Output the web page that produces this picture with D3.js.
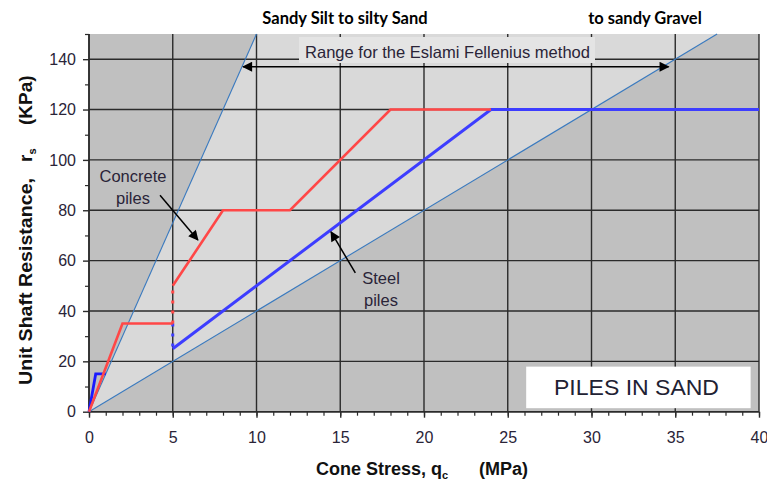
<!DOCTYPE html>
<html><head><meta charset="utf-8">
<script src="https://cdn.jsdelivr.net/npm/d3@7"></script>
<style>body{margin:0;background:#fff;}svg{display:block;}</style>
</head><body>
<svg id="c" width="767" height="480"></svg>
<script>
// ---- data ----
const xTicks = [0, 5, 10, 15, 20, 25, 30, 35, 40];
const yTicks = [0, 20, 40, 60, 80, 100, 120, 140];
const xMinorTicks = d3.range(0, 41, 1);
const yMinorTicks = [10, 30, 50, 70, 90, 110, 130, 150];
const upperBound = [[0, 0], [10, 150]];
const lowerBound = [[0, 0], [37.5, 150]];
const concreteLow = [[0, 0], [2, 35], [5, 35]];
const concreteJump = [[5, 35], [5, 50]];
const concreteHigh = [[5, 50], [8, 80], [12, 80], [18, 120], [24, 120]];
const steelLow = [[0, 0], [0.4, 15], [1, 15]];
const steelJump = [[5, 35], [5, 25]];
const steelHigh = [[5, 25], [24, 120], [40, 120]];
const topLabels = ["Sandy Silt to silty Sand", "to sandy Gravel"];

const FONT = "'Liberation Sans', Arial, sans-serif";
const svg = d3.select("#c");
const x = d3.scaleLinear().domain([0, 40]).range([89, 759]);
const y = d3.scaleLinear().domain([0, 150]).range([411.7, 34]);
const line = d3.line().x(d => x(d[0])).y(d => y(d[1]));

// plot background
svg.append("rect").attr("x", x(0)).attr("y", y(150)).attr("width", x(40) - x(0)).attr("height", y(0) - y(150)).attr("fill", "#c0c0c0");
// light range region
svg.append("path").attr("d", line([upperBound[0], upperBound[1], lowerBound[1]]) + "Z").attr("fill", "#d9d9d9");

// grid
const g = svg.append("g");
g.selectAll(".vx").data(xTicks).join("line").attr("x1", d => x(d)).attr("x2", d => x(d)).attr("y1", y(150)).attr("y2", y(0)).attr("stroke", "#2b2b2b").attr("stroke-width", 1.4);
g.selectAll(".hy").data(yTicks).join("line").attr("x1", x(0)).attr("x2", x(40)).attr("y1", d => y(d)).attr("y2", d => y(d)).attr("stroke", "#2b2b2b").attr("stroke-width", 1.4);

// axes with minor ticks
const xAxis = d3.axisBottom(x).tickValues(xMinorTicks).tickSize(4).tickFormat("");
const xa = svg.append("g").attr("transform", `translate(0,${y(0)})`).call(xAxis);
xa.select(".domain").remove();
xa.selectAll("line").attr("stroke", "#2b2b2b").attr("stroke-width", 1.2);
const xLab = d3.axisBottom(x).tickValues(xTicks).tickSize(6).tickPadding(14).tickFormat(d3.format("d"));
const xl = svg.append("g").attr("transform", `translate(0,${y(0)})`).call(xLab);
xl.select(".domain").remove();
xl.selectAll("line").attr("stroke", "#2b2b2b").attr("stroke-width", 1.4);
xl.selectAll("text").attr("font-family", FONT).attr("font-size", 16).attr("fill", "#2a2438");

const yAxis = d3.axisLeft(y).tickValues(yMinorTicks).tickSize(4).tickFormat("");
const ya = svg.append("g").attr("transform", `translate(${x(0)},0)`).call(yAxis);
ya.select(".domain").remove();
ya.selectAll("line").attr("stroke", "#2b2b2b").attr("stroke-width", 1.2);
const yLab = d3.axisLeft(y).tickValues(yTicks).tickSize(6).tickPadding(7).tickFormat(d3.format("d"));
const yl = svg.append("g").attr("transform", `translate(${x(0)},0)`).call(yLab);
yl.select(".domain").remove();
yl.selectAll("line").attr("stroke", "#2b2b2b").attr("stroke-width", 1.4);
yl.selectAll("text").attr("font-family", FONT).attr("font-size", 16).attr("fill", "#2a2438");
svg.append("line").attr("x1", x(0)).attr("x2", x(0)).attr("y1", y(150)).attr("y2", y(0)).attr("stroke", "#2b2b2b").attr("stroke-width", 1.6);
svg.append("line").attr("x1", x(0)).attr("x2", x(40)).attr("y1", y(0)).attr("y2", y(0)).attr("stroke", "#2b2b2b").attr("stroke-width", 1.6);

// bound lines
[upperBound, lowerBound].forEach(b => svg.append("path").attr("d", line(b)).attr("stroke", "#3a7abf").attr("stroke-width", 1.1).attr("fill", "none"));

// PILES IN SAND box
svg.append("rect").attr("x", x(26.1)).attr("y", y(17.9)).attr("width", x(39.5) - x(26.1)).attr("height", y(1.4) - y(17.9)).attr("fill", "#ffffff");
svg.append("text").attr("x", 554).attr("y", 395).attr("textLength", 165).attr("lengthAdjust", "spacingAndGlyphs")
  .attr("font-family", FONT).attr("font-size", 21.5).attr("fill", "#1f2233").text("PILES IN SAND");

// steel lines
const blue = "#3d3dff", red = "#ff4747";
svg.append("path").attr("d", line(steelLow)).attr("stroke", "#1a1aff").attr("stroke-width", 2.8).attr("fill", "none");
svg.append("path").attr("d", line(steelJump)).attr("stroke", blue).attr("stroke-width", 3).attr("stroke-dasharray", "3,7").attr("fill", "none");
svg.append("path").attr("d", line(steelHigh)).attr("stroke", blue).attr("stroke-width", 3).attr("fill", "none");
// concrete lines
svg.append("path").attr("d", line(concreteLow)).attr("stroke", red).attr("stroke-width", 2.6).attr("fill", "none");
svg.append("path").attr("d", line(concreteJump)).attr("stroke", red).attr("stroke-width", 3).attr("stroke-dasharray", "3,7").attr("fill", "none");
svg.append("path").attr("d", line(concreteHigh)).attr("stroke", red).attr("stroke-width", 2.6).attr("fill", "none");

// arrow marker
const defs = svg.append("defs");
defs.append("marker").attr("id", "ah").attr("viewBox", "0 0 10 10").attr("refX", 9).attr("refY", 5)
  .attr("markerWidth", 14).attr("markerHeight", 10).attr("markerUnits", "userSpaceOnUse").attr("orient", "auto-start-reverse")
  .append("path").attr("d", "M0,0 L10,5 L0,10 Z").attr("fill", "#000");

// Range label
svg.append("rect").attr("x", 299).attr("y", 37).attr("width", 296).attr("height", 26).attr("fill", "#e4e4e4");
svg.append("text").attr("x", 305).attr("y", 58).attr("textLength", 285).attr("lengthAdjust", "spacingAndGlyphs").attr("font-family", FONT)
  .attr("font-size", 16.5).attr("fill", "#2a2438").text("Range for the Eslami Fellenius method");
svg.append("line").attr("x1", x(9.2)).attr("x2", x(34.6)).attr("y1", y(137)).attr("y2", y(137)).attr("stroke", "#000").attr("stroke-width", 1.5)
  .attr("marker-start", "url(#ah)").attr("marker-end", "url(#ah)");

// annotations
const ann = svg.append("g").attr("font-family", FONT).attr("font-size", 16.5).attr("fill", "#2a2438").attr("text-anchor", "middle");
ann.append("text").attr("x", 133).attr("y", 182).text("Concrete");
ann.append("text").attr("x", 133).attr("y", 204).text("piles");
ann.append("text").attr("x", 381).attr("y", 284).text("Steel");
ann.append("text").attr("x", 381).attr("y", 306).text("piles");
svg.append("line").attr("x1", x(4.24)).attr("y1", y(86)).attr("x2", x(6.5)).attr("y2", y(68.2)).attr("stroke", "#000").attr("stroke-width", 1.5).attr("marker-end", "url(#ah)");
svg.append("line").attr("x1", x(15.9)).attr("y1", y(55.1)).attr("x2", x(14.45)).attr("y2", y(71.4)).attr("stroke", "#000").attr("stroke-width", 1.5).attr("marker-end", "url(#ah)");

// top labels
svg.append("text").attr("x", 345).attr("y", 24).attr("text-anchor", "middle").attr("font-family", "Lato, sans-serif").attr("font-weight", "bold").attr("font-size", 16.5).attr("fill", "#000").text(topLabels[0]);
svg.append("text").attr("x", 645).attr("y", 24).attr("text-anchor", "middle").attr("font-family", "Lato, sans-serif").attr("font-weight", "bold").attr("font-size", 16.5).attr("fill", "#000").text(topLabels[1]);

// axis titles
const xt = svg.append("text").attr("x", 316).attr("y", 475).attr("font-family", FONT).attr("font-weight", "bold").attr("font-size", 18).attr("fill", "#111");
xt.append("tspan").text("Cone Stress, q");
xt.append("tspan").attr("font-size", 11).attr("dy", 4).text("c");
xt.append("tspan").attr("x", 479).attr("dy", -4).text("(MPa)");
const yt = svg.append("text").attr("transform", "translate(32,385) rotate(-90)").attr("font-family", FONT).attr("font-weight", "bold").attr("font-size", 19).attr("fill", "#111");
yt.append("tspan").attr("textLength", 207).attr("lengthAdjust", "spacingAndGlyphs").text("Unit Shaft Resistance,");
yt.append("tspan").attr("x", 223).text("r");
yt.append("tspan").attr("font-size", 11).attr("dy", 4).text("s");
yt.append("tspan").attr("x", 260).attr("dy", -4).text("(KPa)");
</script>
</body></html>
